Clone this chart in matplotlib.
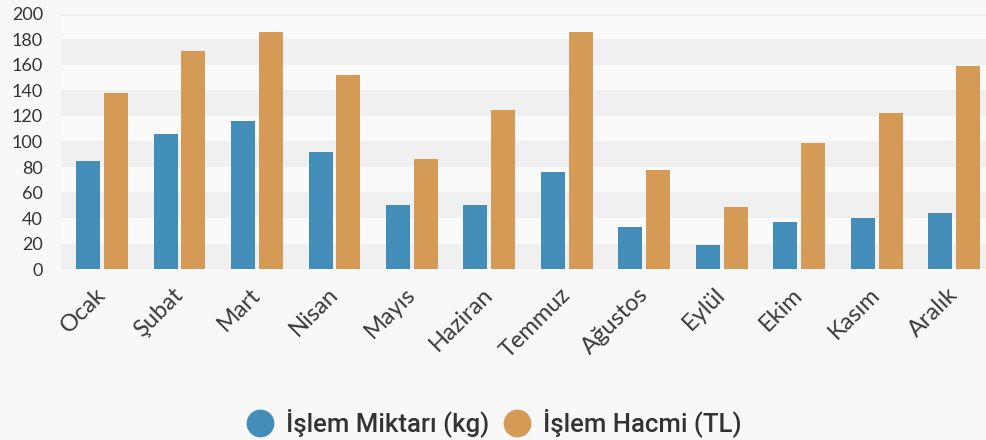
import matplotlib
matplotlib.use("Agg")
import matplotlib.pyplot as plt
import numpy as np
from matplotlib.lines import Line2D

months = ["Ocak", "Şubat", "Mart", "Nisan", "Mayıs", "Haziran", "Temmuz",
          "Ağustos", "Eylül", "Ekim", "Kasım", "Aralık"]
miktar = [85, 106, 116, 92, 50, 50, 76, 33, 19, 37, 40, 44]
hacim = [138, 171, 186, 152, 86, 125, 186, 78, 49, 99, 122, 159]
series_names = ["İşlem Miktarı (kg)", "İşlem Hacmi (TL)"]
yticks = [0, 20, 40, 60, 80, 100, 120, 140, 160, 180, 200]

BLUE = "#428eb9"
ORANGE = "#d59a55"
BG = "#f8f8f8"
BAND = "#f0f0f0"
TXT = "#333333"

plt.rcParams['font.family'] = ['Lato', 'DejaVu Sans']

W, H = 986, 440
fig = plt.figure(figsize=(W / 100, H / 100), dpi=100, facecolor=BG)
ax = fig.add_axes([61 / W, (H - 269) / H, (986 - 61) / W, (269 - 14) / H])
ax.set_facecolor("#fafafa")

for lo in range(0, 200, 40):
    ax.axhspan(lo, lo + 20, color=BAND, lw=0, zorder=0)
ax.axhline(200, color="#eeeeee", lw=2.2, zorder=0.5)

x = np.arange(len(months))
bw = 0.31
off = 0.18
ax.bar(x - off, miktar, width=bw, color=BLUE, zorder=2)
ax.bar(x + off, hacim, width=bw, color=ORANGE, zorder=2)

ax.set_ylim(0, 200)
ax.set_xlim(-0.53, 11.41)
ax.set_yticks(yticks)
ax.set_yticklabels([str(v) for v in yticks], fontsize=13, color=TXT)
ax.tick_params(axis='y', length=0, pad=13)
ax.set_xticks(x)
ax.set_xticklabels(months, rotation=45, ha='right', va='center',
                   rotation_mode='anchor', fontsize=17, color="#3a3a3a")
ax.tick_params(axis='x', length=0, pad=16)
for s in ax.spines.values():
    s.set_visible(False)

handles = [Line2D([0], [0], marker='o', color='none', markerfacecolor=c,
                  markeredgecolor='none', markersize=20) for c in (BLUE, ORANGE)]
leg = fig.legend(handles, series_names, loc='center', bbox_to_anchor=(0.5, 17 / H),
                 ncol=2, frameon=False, handletextpad=0.4,
                 columnspacing=0.5, handlelength=1.2,
                 prop={'family': ['Roboto', 'DejaVu Sans'], 'size': 18.5, 'weight': 'medium'})
for t in leg.get_texts():
    t.set_color(TXT)

fig.savefig("out.png", dpi=100, facecolor=BG)
